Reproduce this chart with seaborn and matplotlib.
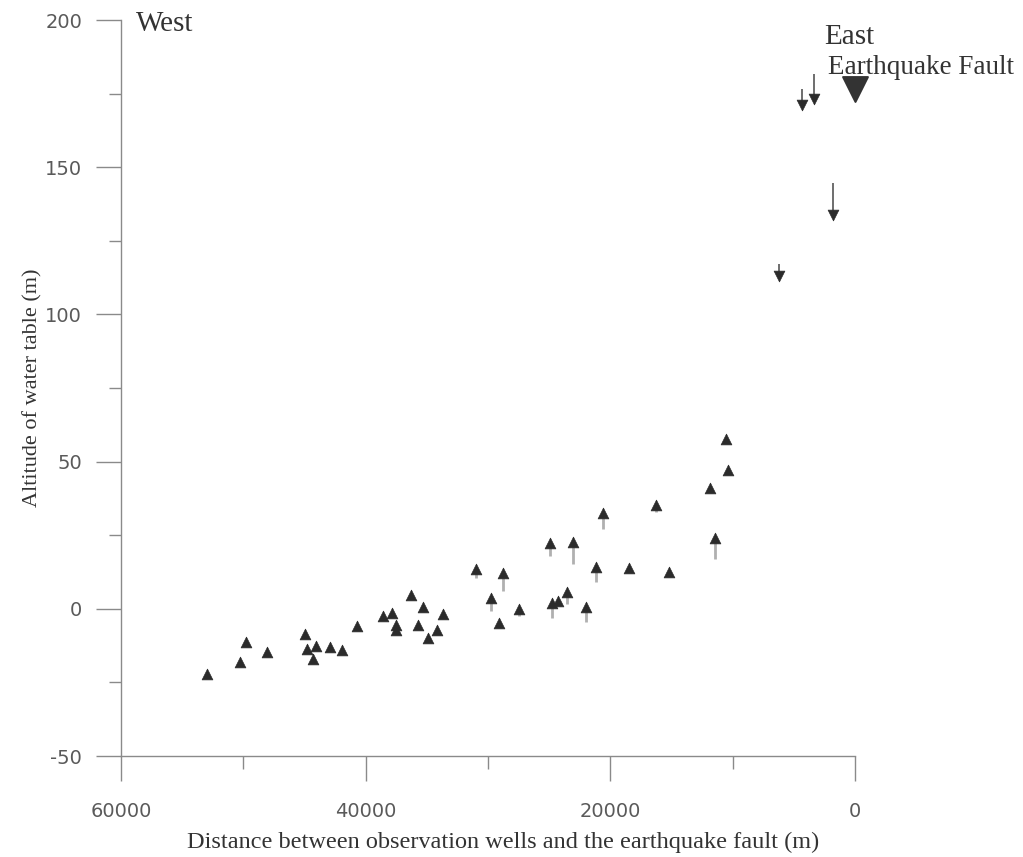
import pandas as pd
import matplotlib
matplotlib.use("Agg")
import matplotlib.pyplot as plt
import seaborn as sns
from matplotlib.ticker import MultipleLocator

# ------------------------------
# Data
# ------------------------------
# wells west of the fault (water table rose)
west_dist = [52970, 50270, 49780, 48060, 44960, 44790, 44060, 44300, 42910, 41930,
             40710, 38580, 37850, 37520, 37520, 36290, 35310, 35720, 33680, 34170,
             34900, 30980, 29750, 28770, 29100, 27470, 24930, 23050, 24770, 24280,
             23540, 21990, 21170, 20600, 18470, 16270, 15200, 11850, 11440, 10380,
             10540]
west_alt = [-22.1, -18.1, -11.3, -14.7, -8.6, -13.7, -12.6, -17.0, -13.0, -14.0,
            -5.8, -2.4, -1.4, -5.5, -7.2, 4.7, 0.6, -5.5, -1.8, -7.2,
            -9.9, 13.5, 3.7, 12.2, -4.8, 0.0, 22.3, 22.7, 2.0, 2.6,
            5.7, 0.6, 14.2, 32.5, 13.9, 35.3, 12.5, 41.0, 24.0, 47.1,
            57.7]
west_rise = [0, 0, 0, 0, 0, 0, 0, 0, 0, 0,
             0, 0, 0, 0, 0, 0, 0, 0, 0, 0,
             0, 3.0, 4.5, 6.0, 0, 2.5, 4.5, 7.5, 5.0, 0,
             4.0, 5.0, 5.0, 5.3, 0, 2.3, 0, 0, 7.0, 0,
             0]

# wells near the fault (water table dropped)
east_dist = [6210, 1800, 4330, 3350]
east_alt = [113.0, 133.7, 171.1, 173.2]
east_drop = [4.0, 11.0, 5.5, 8.5]

fault_dist = [0]
fault_alt = [176.4]

west_df = pd.DataFrame({"dist": west_dist, "alt": west_alt, "rise": west_rise})
east_df = pd.DataFrame({"dist": east_dist, "alt": east_alt, "drop": east_drop})

# ------------------------------
# Plot
# ------------------------------
sns.set_style("ticks")
plt.rcParams["axes.unicode_minus"] = False
serif = ["Liberation Serif", "DejaVu Serif"]
axis_gray = "#8a8a8a"
tick_gray = "#5a5a5a"
mark = "#2b2b2b"
txt = "#333333"

fig = plt.figure(figsize=(10.23, 8.57), dpi=100)
ax = fig.add_axes([121 / 1023, 1 - 756 / 857, 734 / 1023, 736 / 857])

# arrow tails
up = west_df[west_df["rise"] > 0]
ax.vlines(up["dist"], up["alt"] - up["rise"], up["alt"], colors="#b0b0b0", lw=2, zorder=1)
ax.vlines(east_df["dist"], east_df["alt"], east_df["alt"] + east_df["drop"],
          colors="#555555", lw=1.2, zorder=1)

sns.scatterplot(data=west_df, x="dist", y="alt", marker="^", s=60, color=mark,
                edgecolor=mark, linewidth=0.5, ax=ax, zorder=3)
sns.scatterplot(data=east_df, x="dist", y="alt", marker="v", s=60, color=mark,
                edgecolor=mark, linewidth=0.5, ax=ax, zorder=3)
sns.scatterplot(x=fault_dist, y=fault_alt, marker="v", s=320, color=txt,
                edgecolor=txt, ax=ax, zorder=3, clip_on=False)

ax.set_xlim(60000, 0)
ax.set_ylim(-50, 200)

ax.xaxis.set_major_locator(MultipleLocator(20000))
ax.xaxis.set_minor_locator(MultipleLocator(10000))
ax.yaxis.set_major_locator(MultipleLocator(50))
ax.yaxis.set_minor_locator(MultipleLocator(25))

sns.despine(ax=ax)
for side in ["left", "bottom"]:
    ax.spines[side].set_color(axis_gray)
    ax.spines[side].set_linewidth(1)

ax.tick_params(which="major", length=18, width=1, color=axis_gray,
               labelsize=14, labelcolor=tick_gray)
ax.tick_params(which="minor", length=9, width=1, color=axis_gray)
ax.tick_params(axis="x", which="major", pad=15)
ax.tick_params(axis="y", which="major", pad=10)

ax.set_xlabel("Distance between observation wells and the earthquake fault (m)",
              family=serif, fontsize=17.5, color=txt, va="center")
ax.xaxis.set_label_coords(0.52, -0.118)
ax.set_ylabel("Altitude of water table (m)", family=serif, fontsize=16,
              color=txt, labelpad=2)

ax.text(58800, 203, "West", family=serif, fontsize=21, color=txt,
        ha="left", va="top")
ax.text(2530, 194.2, "East", family=serif, fontsize=21, color=txt,
        ha="left", va="center")
ax.text(2200, 183.7, "Earthquake Fault", family=serif, fontsize=19.5,
        color=txt, ha="left", va="center", clip_on=False)

ax.set_facecolor("white")
fig.patch.set_facecolor("white")

plt.savefig("out.png", dpi=100)
